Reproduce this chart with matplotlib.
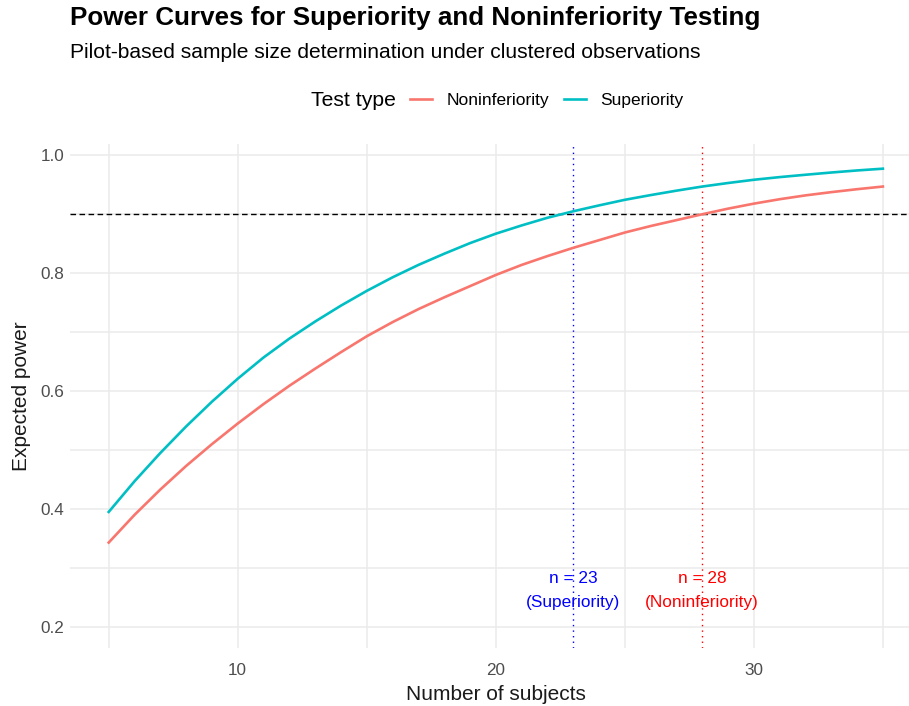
import matplotlib
matplotlib.use("Agg")
import matplotlib.pyplot as plt
from matplotlib.lines import Line2D

plt.rcParams['font.family'] = ['Liberation Sans', 'DejaVu Sans']

# ---- data ----
n_subjects = list(range(5, 36))
power_superiority = [0.395, 0.447, 0.495, 0.540, 0.582, 0.621, 0.657, 0.689, 0.718, 0.745,
                     0.770, 0.793, 0.814, 0.833, 0.851, 0.867, 0.881, 0.894, 0.905, 0.915,
                     0.9245, 0.9325, 0.940, 0.947, 0.953, 0.9585, 0.963, 0.967, 0.9708, 0.9743, 0.9773]
power_noninferiority = [0.343, 0.390, 0.433, 0.473, 0.510, 0.545, 0.578, 0.609, 0.638, 0.666,
                        0.693, 0.717, 0.739, 0.759, 0.778, 0.797, 0.814, 0.829, 0.843, 0.856,
                        0.869, 0.880, 0.890, 0.900, 0.9095, 0.918, 0.9255, 0.932, 0.9375, 0.9425, 0.947]
target_power = 0.9
n_sup = 23
n_noninf = 28
x_ticks = [10, 20, 30]
y_ticks = [0.2, 0.4, 0.6, 0.8, 1.0]
y_tick_labels = ["0.2", "0.4", "0.6", "0.8", "1.0"]

col_noninf = "#F8766D"
col_sup = "#00BFC4"

W, H = 909, 706
fig = plt.figure(figsize=(W / 100, H / 100), dpi=100)
fig.patch.set_facecolor("white")

left_px, right_px, top_px, bot_px = 70, 921.6, 144.1, 648.1
ax = fig.add_axes([left_px / W, 1 - bot_px / H, (right_px - left_px) / W, (bot_px - top_px) / H])
ax.set_xlim(3.5, 36.5)
ax.set_ylim(0.164, 1.019)

for s in ax.spines.values():
    s.set_visible(False)

ax.set_xticks(x_ticks)
ax.set_xticks([5, 15, 25, 35], minor=True)
ax.set_yticks(y_ticks)
ax.set_yticklabels(y_tick_labels)
ax.set_yticks([0.3, 0.5, 0.7, 0.9], minor=True)
ax.grid(which="major", color="#EBEBEB", linewidth=1.1)
ax.grid(which="minor", color="#EBEBEB", linewidth=1.1)
ax.set_axisbelow(True)
ax.tick_params(which="both", length=0)
ax.tick_params(axis="both", labelsize=12.3, colors="#4D4D4D")
ax.tick_params(axis="y", pad=4)
ax.tick_params(axis="x", pad=11)

ax.axhline(target_power, color="black", linestyle=(0, (4, 2.5)), linewidth=1.0, zorder=2)
ax.axvline(n_sup, color="blue", linestyle=(0, (1, 3)), linewidth=1.0, zorder=2)
ax.axvline(n_noninf, color="red", linestyle=(0, (1, 3)), linewidth=1.0, zorder=2)

ax.plot(n_subjects, power_noninferiority, color=col_noninf, linewidth=1.9, zorder=3)
ax.plot(n_subjects, power_superiority, color=col_sup, linewidth=1.9, zorder=3)

ax.text(n_sup, 0.262, "n = 23\n(Superiority)", color="blue", ha="center", va="center",
        fontsize=12.4, linespacing=1.75, zorder=4)
ax.text(n_noninf, 0.262, "n = 28\n(Noninferiority)", color="red", ha="center", va="center",
        fontsize=12.4, linespacing=1.75, zorder=4)

ax.set_xlabel("Number of subjects", fontsize=15, color="#1a1a1a", labelpad=5)
ax.set_ylabel("Expected power", fontsize=15, color="#1a1a1a", labelpad=7)

fig.text(70 / W, 1 - 25 / H, "Power Curves for Superiority and Noninferiority Testing",
         fontsize=18.7, fontweight="bold", ha="left", va="baseline")
fig.text(70 / W, 1 - 57.5 / H, "Pilot-based sample size determination under clustered observations",
         fontsize=15.1, ha="left", va="baseline")

# legend
fig.text(311 / W, 1 - 100 / H, "Test type", fontsize=15.2, ha="left", va="center")
handles = [Line2D([], [], color=col_noninf, linewidth=1.9),
           Line2D([], [], color=col_sup, linewidth=1.9)]
leg = fig.legend(handles, ["Noninferiority", "Superiority"], loc="center left",
                 bbox_to_anchor=(410 / W, 1 - 100 / H), ncol=2, frameon=False,
                 fontsize=12.5, handlelength=1.25, handletextpad=0.85, columnspacing=0.85,
                 borderpad=0, borderaxespad=0)

fig.savefig("out.png", dpi=100, facecolor="white")
